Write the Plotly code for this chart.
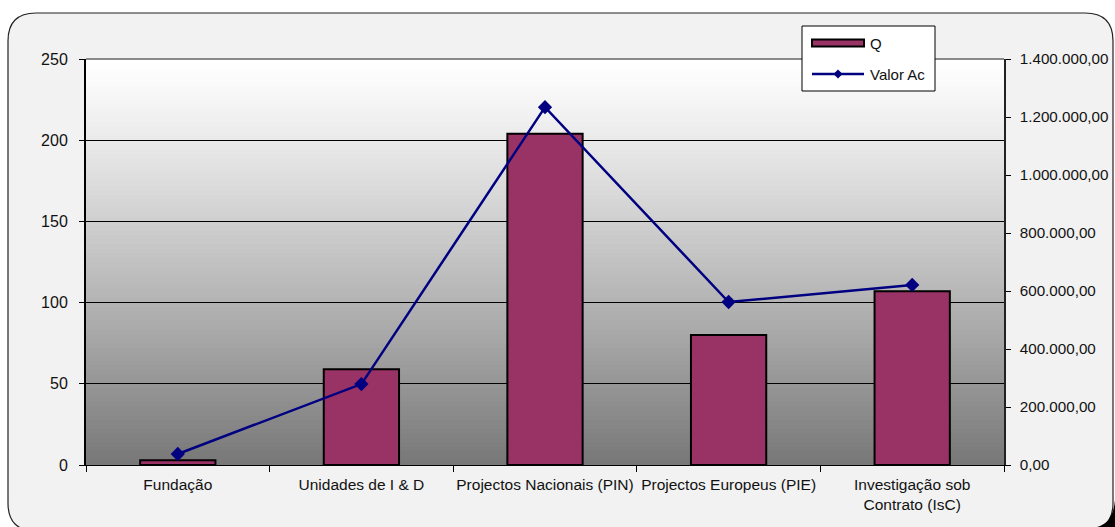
import plotly.graph_objects as go

# Data
categories = ["Fundação", "Unidades de I & D", "Projectos Nacionais (PIN)",
              "Projectos Europeus (PIE)", "Investigação sob<br>Contrato (IsC)"]
q_values = [3, 59, 204, 80, 107]
valor_ac = [38000, 279000, 1234000, 562000, 621000]

left_ticks = [0, 50, 100, 150, 200, 250]
right_ticks = [0, 200000, 400000, 600000, 800000, 1000000, 1200000, 1400000]
right_tick_text = ["0,00", "200.000,00", "400.000,00", "600.000,00", "800.000,00",
                   "1.000.000,00", "1.200.000,00", "1.400.000,00"]

W, H = 1115, 527
ML, MR, MT, MB = 86, 111, 59, 62
PW, PH = W - ML - MR, H - MT - MB
FONT = "Liberation Sans, Arial, sans-serif"
BAR_COLOR = "#993366"
LINE_COLOR = "#000080"


def px(x):
    return (x - ML) / PW


def py(y):
    return (MT + PH - y) / PH


fig = go.Figure()
fig.add_trace(go.Bar(
    x=categories, y=q_values, name="Q", width=0.41,
    marker=dict(color=BAR_COLOR, line=dict(color="#000000", width=2)),
    yaxis="y", showlegend=False,
))
fig.add_trace(go.Scatter(
    x=categories, y=valor_ac, name="Valor Ac", mode="lines+markers",
    line=dict(color=LINE_COLOR, width=2.5),
    marker=dict(symbol="diamond", size=11, color=LINE_COLOR),
    yaxis="y2", showlegend=False,
))

shapes = []

# Rounded outer frame
x0, y0, x1, y1, r = 8, 13, 1113, 531, 28
frame = (f"M {px(x0)},{py(y0 + r)} Q {px(x0)},{py(y0)} {px(x0 + r)},{py(y0)} "
         f"L {px(x1 - r)},{py(y0)} Q {px(x1)},{py(y0)} {px(x1)},{py(y0 + r)} "
         f"L {px(x1)},{py(y1 - r)} Q {px(x1)},{py(y1)} {px(x1 - r)},{py(y1)} "
         f"L {px(x0 + r)},{py(y1)} Q {px(x0)},{py(y1)} {px(x0)},{py(y1 - r)} Z")
shapes.append(dict(type="path", xref="paper", yref="paper", path=frame,
                   fillcolor="#f2f2f2", line=dict(color="#222222", width=1.2),
                   layer="below"))
# dark corner outside the frame at the bottom right
corner = (f"M {px(1115)},{py(500)} L {px(1115)},{py(527)} L {px(1097)},{py(527)} "
          f"Q {px(1113)},{py(523)} {px(1115)},{py(500)} Z")
shapes.append(dict(type="path", xref="paper", yref="paper", path=corner,
                   fillcolor="#000000", line=dict(width=0), layer="below"))

# Vertical gradient in the plot area: white at top, grey at bottom
N = 90
for i in range(N):
    f = 1 - (i + 0.5) / N
    c = int(round(255 - 136 * f ** 1.15))
    shapes.append(dict(type="rect", xref="paper", yref="paper",
                       x0=0, x1=1, y0=i / N, y1=(i + 1) / N + 0.002,
                       fillcolor=f"rgb({c},{c},{c})", line=dict(width=0),
                       layer="below"))

# Grey top edge of the plot area
shapes.append(dict(type="line", xref="paper", yref="paper", x0=0, x1=1, y0=1, y1=1,
                   line=dict(color="#8a8a8a", width=2), layer="above"))

# Legend box
shapes.append(dict(type="rect", xref="paper", yref="paper",
                   x0=px(802), x1=px(935), y0=py(91), y1=py(26),
                   fillcolor="#ffffff", line=dict(color="#000000", width=1),
                   layer="above"))
shapes.append(dict(type="rect", xref="paper", yref="paper",
                   x0=px(812), x1=px(864), y0=py(46.5), y1=py(39.5),
                   fillcolor=BAR_COLOR, line=dict(color="#000000", width=2),
                   layer="above"))
shapes.append(dict(type="line", xref="paper", yref="paper",
                   x0=px(812), x1=px(864), y0=py(74), y1=py(74),
                   line=dict(color=LINE_COLOR, width=2.5), layer="above"))
d = 4.5
diamond = (f"M {px(838 - d)},{py(74)} L {px(838)},{py(74 - d)} "
           f"L {px(838 + d)},{py(74)} L {px(838)},{py(74 + d)} Z")
shapes.append(dict(type="path", xref="paper", yref="paper", path=diamond,
                   fillcolor=LINE_COLOR, line=dict(width=0), layer="above"))

annotations = [
    dict(xref="paper", yref="paper", x=px(868), y=py(43.5), text="Q",
         showarrow=False, xanchor="left", yanchor="middle",
         font=dict(family=FONT, size=15, color="#111111")),
    dict(xref="paper", yref="paper", x=px(868), y=py(74), text="Valor Ac",
         showarrow=False, xanchor="left", yanchor="middle",
         font=dict(family=FONT, size=15, color="#111111")),
]

fig.update_layout(
    width=W, height=H,
    margin=dict(l=ML, r=MR, t=MT, b=MB, pad=0, autoexpand=False),
    paper_bgcolor="#ffffff", plot_bgcolor="rgba(0,0,0,0)",
    font=dict(family=FONT, size=16, color="#111111"),
    bargap=0.59,
    xaxis=dict(
        type="category", tickson="boundaries", ticks="outside", ticklen=6,
        tickcolor="#000000", showline=True, linecolor="#000000", linewidth=1.2,
        showgrid=False, tickfont=dict(size=15.5, color="#111111"),
        tickangle=0, automargin=False, ticklabelstandoff=5,
    ),
    yaxis=dict(
        range=[0, 250], tickvals=left_ticks, ticks="outside", ticklen=5,
        tickcolor="#000000", showline=True, linecolor="#000000", linewidth=2,
        showgrid=True, gridcolor="#000000", gridwidth=1, zeroline=False,
        tickfont=dict(size=16, color="#111111"), ticklabelstandoff=8,
        automargin=False,
    ),
    yaxis2=dict(
        range=[0, 1400000], overlaying="y", side="right",
        tickvals=right_ticks, ticktext=right_tick_text, ticks="outside", ticklen=5,
        tickcolor="#000000", showline=True, linecolor="#222222", linewidth=1.5,
        showgrid=False, zeroline=False, automargin=False,
        tickfont=dict(size=15.2, color="#111111"), ticklabelstandoff=6,
    ),
    shapes=shapes,
    annotations=annotations,
    showlegend=False,
)

fig.write_html("out.html")
